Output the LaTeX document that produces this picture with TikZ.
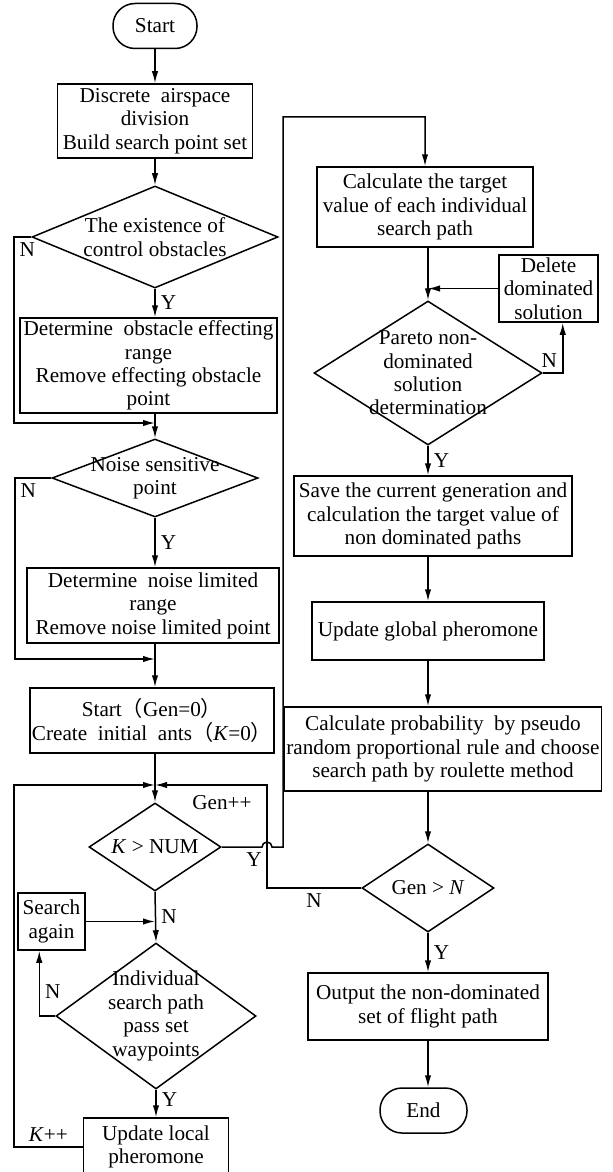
\documentclass[tikz,border=0pt]{standalone}
\usepackage{fontspec}
\setmainfont{Liberation Serif}
\newfontfamily\cjk{Noto Sans CJK SC}
\usetikzlibrary{shapes.geometric,arrows.meta}

\begin{document}
\begin{tikzpicture}[x=0.5pt, y=-0.5pt, line width=0.75pt,
    every node/.style={font=\fontsize{10.6}{11.7}\selectfont},
    box/.style={draw, rectangle, align=center, inner sep=1pt},
    term/.style={draw, rectangle, rounded corners=11pt, minimum height=22.5pt},
    dec/.style={draw, diamond, inner sep=0pt},
    lbl/.style={inner sep=2.5pt},
    arr/.style={-{Latex[length=6pt,width=3.2pt]}}]
    \useasboundingbox (0,0) rectangle (612,1172);

    % left column
    \node[term, minimum width=42pt] (start) at (155,26) {Start};
    \node[box, minimum width=97.5pt, minimum height=37pt] (b1) at (155,121) {Discrete\ \ airspace\\division\\Build search point set};
    \node[dec, minimum width=123pt, minimum height=51pt, label={[align=center]center:{The existence of\\control obstacles}}] (d1) at (155,237) {};
    \node[box, minimum width=128.5pt, minimum height=47.5pt] (b2) at (148.5,365.5) {Determine\ \ obstacle effecting\\range\\Remove effecting obstacle\\point};
    \node[dec, minimum width=103pt, minimum height=39pt, label={[align=center]center:{Noise sensitive\\point}}] (d2) at (155,478) {};
    \node[box, minimum width=126pt, minimum height=37.5pt] (b3) at (153,605.5) {Determine\ \ noise limited\\range\\Remove noise limited point};
    \node[box, minimum width=121pt, minimum height=32.5pt] (b4) at (152,720.5) {Start{\cjk （}Gen=0{\cjk ）}\\Create\ \ initial\ \ ants{\cjk （}\textit{K}=0{\cjk ）}};
    \node[dec, minimum width=66pt, minimum height=44pt, label={center:{\textit{K} > NUM}}] (d3) at (155,847) {};
    \node[box, minimum width=33.5pt, minimum height=28.5pt] (sa) at (51.5,921.5) {Search\\again};
    \node[dec, minimum width=100pt, minimum height=73pt, label={[align=center]center:{Individual\\search path\\pass set\\waypoints}}] (d4) at (156,1016) {};
    \node[box, minimum width=72.5pt, minimum height=29pt] (ulp) at (156,1147) {Update local\\pheromone};
    \node[lbl] (genpp) at (222,803) {Gen++};

    % right column
    \node[box, minimum width=108pt, minimum height=40pt] (b5) at (425,207) {Calculate the target\\value of each individual\\search path};
    \node[box, minimum width=49.5pt, minimum height=33.5pt] (del) at (548.5,288.5) {Delete\\dominated\\solution};
    \node[dec, minimum width=114pt, minimum height=72pt, label={[align=center]center:{Pareto non-\\dominated\\solution\\determination}}] (d5) at (428,373) {};
    \node[box, minimum width=139pt, minimum height=40pt] (b6) at (433,516) {Save the current generation and\\calculation the target value of\\non dominated paths};
    \node[box, minimum width=116pt, minimum height=29pt] (b7) at (428,631) {Update global pheromone};
    \node[box, minimum width=158pt, minimum height=42pt] (b8) at (443,749) {Calculate probability\ \ by pseudo\\random proportional rule and choose\\search path by roulette method};
    \node[dec, minimum width=66pt, minimum height=44pt, label={center:{Gen > \textit{N}}}] (d6) at (428,888) {};
    \node[box, minimum width=120pt, minimum height=33.5pt] (b9) at (428,1006.5) {Output the non-dominated\\set of flight path};
    \node[term, minimum width=43.5pt] (end) at (423.5,1110.5) {End};

    \coordinate (j1) at (155,423);
    \coordinate (j2) at (155,659);
    \coordinate (j3) at (155,785);
    \coordinate (g1) at (267,785);

    % left connectors
    \draw[arr] (start) -- (b1);
    \draw[arr] (b1) -- (d1);
    \draw[arr] (d1.south) -- (d1.south |- b2.north) node[lbl, midway, right] {Y};
    \draw[arr] (d1.west) -- (14,237) node[lbl, below right] {N} |- (j1);
    \draw[arr] (j1 |- b2.south) -- (d2.north);
    \draw[arr] (d2.south) -- (d2.south |- b3.north) node[lbl, midway, right] {Y};
    \draw[arr] (d2.west) -- (15,478) node[lbl, below right] {N} |- (j2);
    \draw[arr] (j2 |- b3.south) -- (j2 |- b4.north);
    \draw[arr] (j3 |- b4.south) -- (d3.north);
    \draw[arr] (d3.south) -- (d4.north) node[lbl, midway, right] {N};
    \draw[arr] (sa.east) -- (sa.east -| d3.south);
    \draw[arr] (d4.west) -- ++(-16,0) coordinate (n4) -- node[lbl, pos=0.38, right] {N} (n4 |- sa.south);
    \draw[arr] (d4.south) -- (ulp.north) node[lbl, pos=0.35, right] {Y};
    \draw[arr] (ulp.west) -- (14,1147) node[lbl, midway, above] {\textit{K}++} |- (j3);

    % right connectors
    \draw[arr] (d3.east) -- node[lbl, pos=0.8, below] {Y} (262,847) arc[start angle=180, end angle=0, radius=2.5pt] -- (283,847) -- (283,117) -| (b5.north);
    \draw[arr] (d5.north |- b5.south) -- (d5.north);
    \draw[arr] (del.west) -- (del.west -| d5.north);
    \draw[arr] (d5.east) -- ++(20,0) coordinate (n5) node[lbl, above left] {N} -- (n5 |- del.south);
    \draw[arr] (d5.south) -- (d5.south |- b6.north) node[lbl, midway, right] {Y};
    \draw[arr] (d5.south |- b6.south) -- (b7.north);
    \draw[arr] (b7.south) -- (b7.south |- b8.north);
    \draw[arr] (b7.south |- b8.south) -- (d6.north);
    \draw[arr] (d6.south) -- (b9.north) node[lbl, midway, right] {Y};
    \draw[arr] (b9.south) -- (b9.south |- end.north);
    \draw[arr] (d6.west) -| node[lbl, pos=0.25, below] {N} (g1) -- (j3);
\end{tikzpicture}
\end{document}
